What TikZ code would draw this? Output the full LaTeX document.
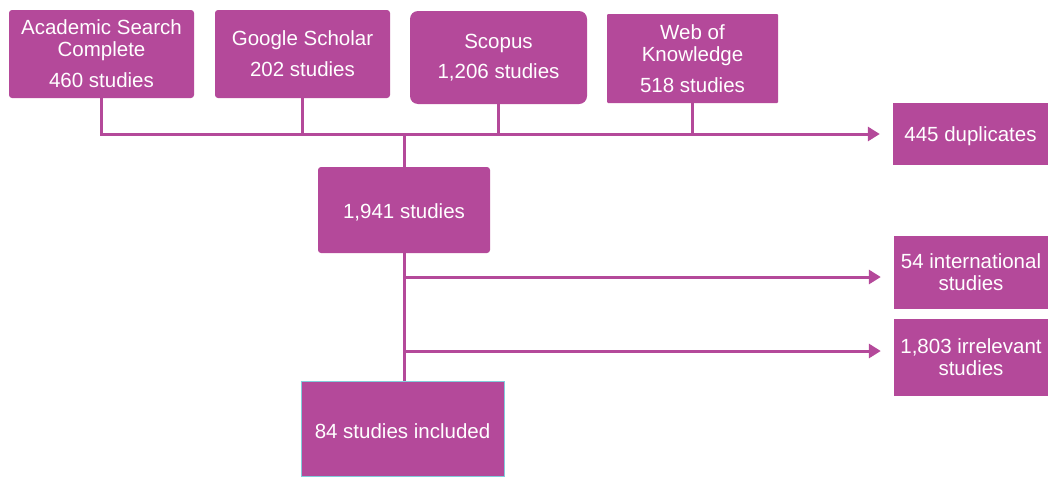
\documentclass[tikz,border=0pt]{standalone}
\usepackage{fontspec}
\setmainfont{Liberation Sans}
\usetikzlibrary{arrows.meta}
\definecolor{pk}{RGB}{180,73,154}
\definecolor{edgecyan}{RGB}{130,205,220}
\tikzset{
  box/.style={fill=pk, text=white, inner sep=0pt, align=center,
    font=\fontsize{20.5}{22}\selectfont, execute at begin node={\rule{0pt}{20pt}}},
  conn/.style={draw=pk, line width=3pt},
  arr/.style={conn, -{Triangle[width=14pt,length=12pt]}, shorten >=13pt}
}
\begin{document}
\begin{tikzpicture}[x=1pt,y=-1pt]
\useasboundingbox (0,0) rectangle (1048,477);
\node[box, rounded corners=3pt, minimum width=185pt, minimum height=88pt] (asc) at (101.5,54) {Academic Search\\Complete\\[9pt]460 studies};
\node[box, rounded corners=3pt, minimum width=175pt, minimum height=88pt] (gs) at (302.5,54) {Google Scholar\\[9pt]202 studies};
\node[box, rounded corners=8pt, minimum width=177pt, minimum height=93pt] (sco) at (498.5,57.5) {Scopus\\[8pt]1,206 studies};
\node[box, rounded corners=1pt, minimum width=171pt, minimum height=89pt] (wok) at (692.5,58.5) {Web of\\Knowledge\\[9pt]518 studies};
\node[box, minimum width=155pt, minimum height=62pt] (dup) at (970.5,134) {445 duplicates};
\node[box, rounded corners=3pt, minimum width=172pt, minimum height=86pt] (mid) at (404,210) {1,941 studies};
\node[box, minimum width=154pt, minimum height=73pt] (intl) at (971,272.5) {54 international\\studies};
\node[box, minimum width=154pt, minimum height=77pt] (irr) at (971,357.5) {1,803 irrelevant\\studies};
\node[box, draw=edgecyan, line width=0.6pt, minimum width=203pt, minimum height=95pt] (fin) at (402.5,428.5) {84 studies included};
% top collector
\draw[conn] (asc.south) -- (asc.south |- dup.west);
\draw[conn] (gs.south) -- (gs.south |- dup.west);
\draw[conn] (sco.south) -- (sco.south |- dup.west);
\draw[conn] (wok.south) -- (wok.south |- dup.west);
\draw[arr] ([xshift=-1.5pt]asc.south |- dup.west) -- (dup.west);
\draw[conn] (mid.north) -- (mid.north |- dup.west);
% lower trunk
\draw[conn] (mid.south) -- (mid.south |- fin.north);
\coordinate (b1) at (403,277);
\coordinate (b2) at (403,351);
\draw[arr] (b1) -- (b1 -| intl.west);
\draw[arr] (b2) -- (b2 -| irr.west);
\end{tikzpicture}
\end{document}
